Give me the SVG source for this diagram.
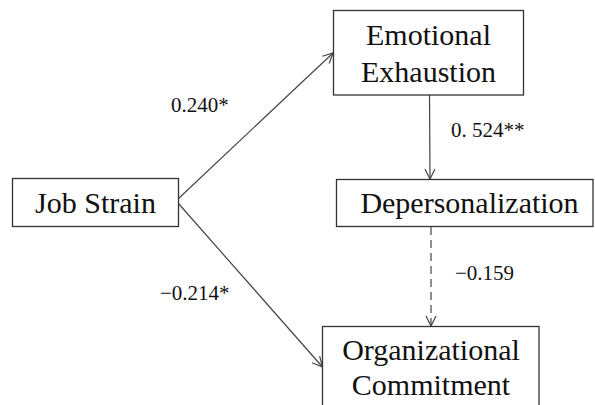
<svg xmlns="http://www.w3.org/2000/svg" width="595" height="405" viewBox="0 0 595 405" font-family="'Liberation Serif', serif">
<defs>
<style>
.box{fill:#fff;stroke:#333;stroke-width:1.3}
.lbl{font-size:30px;fill:#111;text-anchor:middle}
.num{font-size:21px;fill:#111}
.edge{stroke:#444;stroke-width:1.2;fill:none}
</style>
<marker id="arr" viewBox="0 0 12 12" refX="11" refY="6" markerWidth="12" markerHeight="12" markerUnits="userSpaceOnUse" orient="auto">
<polyline points="1,1 11,6 1,11" fill="none" stroke="#444" stroke-width="1.2"/>
</marker>
</defs>
<rect width="595" height="405" fill="#fff"/>
<g id="connectors">
<line class="edge" x1="178" y1="199" x2="333" y2="53" marker-end="url(#arr)"/>
<line class="edge" x1="178" y1="203" x2="322.5" y2="367" marker-end="url(#arr)"/>
<line class="edge" x1="429.5" y1="95" x2="430" y2="179" marker-end="url(#arr)"/>
<line class="edge" x1="431" y1="227" x2="431" y2="326" stroke-dasharray="8,5" marker-end="url(#arr)"/>
<text class="num" x="171" y="111.5">0.240*</text>
<text class="num" x="451" y="136.5">0. 524**</text>
<text class="num" x="160" y="300">−0.214*</text>
<text class="num" x="455" y="280">−0.159</text>
</g>
<g id="job-strain">
<rect class="box" x="12.5" y="178.5" width="166" height="48"/>
<text class="lbl" x="95.5" y="213">Job Strain</text>
</g>
<g id="emotional-exhaustion">
<rect class="box" x="333.5" y="10.5" width="190" height="84.5"/>
<text class="lbl" x="428.5" y="45">Emotional</text>
<text class="lbl" x="428.5" y="82">Exhaustion</text>
</g>
<g id="depersonalization">
<rect class="box" x="336.5" y="179.5" width="256.5" height="47"/>
<text class="lbl" x="469.5" y="213">Depersonalization</text>
</g>
<g id="organizational-commitment">
<rect class="box" x="322.5" y="326.5" width="216.5" height="90"/>
<text class="lbl" x="431" y="360">Organizational</text>
<text class="lbl" x="431" y="395">Commitment</text>
</g>
</svg>
